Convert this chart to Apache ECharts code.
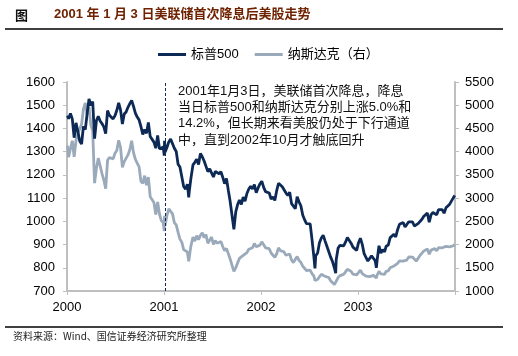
<!DOCTYPE html>
<html><head><meta charset="utf-8">
<script src="https://cdn.jsdelivr.net/npm/echarts@6/dist/echarts.min.js"></script>
<style>html,body{margin:0;padding:0;background:#fff}#c{width:518px;height:356px}</style>
</head><body><div id="c"></div>
<script>
var dates2000=['2000-01-03','2000-01-07','2000-01-14','2000-01-21','2000-01-28','2000-02-04','2000-02-11','2000-02-18','2000-02-25','2000-03-03','2000-03-10','2000-03-17','2000-03-24','2000-03-31','2000-04-07','2000-04-14','2000-04-21','2000-04-28','2000-05-05','2000-05-12','2000-05-19','2000-05-26','2000-06-02','2000-06-09','2000-06-16','2000-06-23','2000-06-30','2000-07-07','2000-07-14','2000-07-21','2000-07-28','2000-08-04','2000-08-11','2000-08-18','2000-08-25','2000-09-01','2000-09-08','2000-09-15','2000-09-22','2000-09-29','2000-10-06','2000-10-13','2000-10-20','2000-10-27','2000-11-03','2000-11-10','2000-11-17','2000-11-24','2000-12-01','2000-12-08','2000-12-15','2000-12-22','2000-12-29'];
var spx2000=[1455,1441,1465,1441,1360,1424,1387,1346,1333,1409,1395,1464,1527,1499,1516,1356,1434,1452,1432,1421,1407,1378,1477,1457,1464,1441,1455,1478,1510,1480,1419,1462,1471,1491,1507,1521,1495,1466,1449,1437,1408,1374,1396,1379,1426,1365,1367,1341,1315,1370,1312,1305,1320];
var ndx2000=[4131,3882,4065,4235,3887,4244,4395,4411,4590,4914,5048,4798,4963,4573,4446,3321,3643,3860,3817,3529,3390,3205,3813,3874,3860,3845,3966,4024,4246,4094,3663,3787,3789,3930,4042,4234,3979,3835,3803,3673,3361,3316,3483,3278,3451,3028,3028,2905,2645,2917,2653,2517,2471];

var dates2001=['2001-01-02','2001-01-03','2001-01-05','2001-01-12','2001-01-19','2001-01-26','2001-02-02','2001-02-09','2001-02-16','2001-02-23','2001-03-02','2001-03-09','2001-03-16','2001-03-23','2001-03-30','2001-04-04','2001-04-06','2001-04-12','2001-04-20','2001-04-27','2001-05-04','2001-05-11','2001-05-18','2001-05-25','2001-06-01','2001-06-08','2001-06-15','2001-06-22','2001-06-29','2001-07-06','2001-07-13','2001-07-20','2001-07-27','2001-08-03','2001-08-10','2001-08-17','2001-08-24','2001-08-31','2001-09-07','2001-09-10','2001-09-21','2001-09-28','2001-10-05','2001-10-12','2001-10-19','2001-10-26','2001-11-02','2001-11-09','2001-11-16','2001-11-23','2001-11-30','2001-12-07','2001-12-14','2001-12-21','2001-12-28'];
var spx2001=[1283,1347,1298,1318,1342,1354,1350,1315,1301,1246,1234,1233,1150,1139,1160,1103,1128,1183,1243,1254,1267,1245,1292,1278,1260,1265,1214,1226,1224,1191,1215,1211,1205,1214,1190,1162,1185,1134,1085,1092,966,1041,1072,1092,1073,1104,1087,1120,1139,1151,1139,1158,1123,1144,1161];
var ndx2001=[2291,2617,2407,2626,2770,2781,2661,2470,2425,2262,2117,2052,1890,1928,1840,1638,1720,1961,2163,2075,2192,2107,2198,2252,2149,2215,2028,2034,2161,2004,2085,2029,2030,2066,1957,1867,1917,1805,1688,1695,1423,1499,1605,1703,1671,1768,1745,1828,1898,1903,1930,2021,1953,1945,1987];

var dates2002=['2002-01-04','2002-01-11','2002-01-18','2002-01-25','2002-02-01','2002-02-08','2002-02-15','2002-02-22','2002-03-01','2002-03-08','2002-03-15','2002-03-22','2002-03-28','2002-04-05','2002-04-12','2002-04-19','2002-04-26','2002-05-03','2002-05-10','2002-05-17','2002-05-24','2002-05-31','2002-06-07','2002-06-14','2002-06-21','2002-06-28','2002-07-05','2002-07-12','2002-07-19','2002-07-23','2002-07-26','2002-08-02','2002-08-09','2002-08-16','2002-08-23','2002-08-30','2002-09-06','2002-09-13','2002-09-20','2002-09-27','2002-10-04','2002-10-09','2002-10-11','2002-10-18','2002-10-25','2002-11-01','2002-11-08','2002-11-15','2002-11-22','2002-11-29','2002-12-06','2002-12-13','2002-12-20','2002-12-27'];
var spx2002=[1173,1146,1128,1133,1122,1096,1105,1090,1132,1164,1166,1149,1147,1122,1112,1125,1076,1074,1054,1106,1084,1067,1027,1007,990,990,989,921,847,797,852,864,908,928,940,916,893,889,846,827,800,777,835,884,897,900,894,910,930,936,906,889,895,875];
var ndx2002=[2059,2023,1930,1937,1911,1818,1805,1724,1802,1930,1868,1852,1845,1770,1757,1796,1663,1613,1600,1741,1661,1615,1535,1505,1441,1463,1448,1374,1319,1229,1262,1247,1306,1361,1380,1315,1295,1291,1221,1199,1139,1114,1210,1287,1331,1360,1359,1411,1468,1479,1422,1362,1387,1348];

var dates2003=['2003-01-03','2003-01-10','2003-01-17','2003-01-24','2003-01-31','2003-02-07','2003-02-14','2003-02-21','2003-02-28','2003-03-07','2003-03-11','2003-03-14','2003-03-21','2003-03-28','2003-04-04','2003-04-11','2003-04-17','2003-04-25','2003-05-02','2003-05-09','2003-05-16','2003-05-23','2003-05-30','2003-06-06','2003-06-13','2003-06-20','2003-06-27','2003-07-03','2003-07-11','2003-07-18','2003-07-25','2003-08-01','2003-08-08','2003-08-15','2003-08-22','2003-08-29','2003-09-05','2003-09-12','2003-09-19','2003-09-26','2003-10-03','2003-10-10','2003-10-17','2003-10-24','2003-10-31','2003-11-07','2003-11-14','2003-11-21','2003-11-28','2003-12-05','2003-12-12','2003-12-19','2003-12-26','2003-12-31'];
var spx2003=[908,927,901,861,856,829,834,851,841,829,800,833,895,863,878,868,893,898,930,933,944,933,964,987,988,995,976,985,998,993,998,980,977,990,993,1008,1021,1018,1036,996,1029,1038,1039,1028,1050,1053,1050,1035,1058,1061,1074,1088,1095,1112];
var ndx2003=[1388,1447,1376,1342,1321,1283,1310,1349,1337,1305,1279,1340,1421,1370,1383,1358,1425,1434,1502,1520,1538,1510,1596,1646,1626,1644,1625,1664,1733,1708,1731,1715,1644,1702,1765,1810,1858,1855,1905,1792,1880,1915,1912,1865,1932,1970,1930,1893,1960,1937,1949,1951,1974,2003];

var cutDate='2001-01-03';
var xTicks=[2000,2001,2002,2003];
var seriesNames=['标普500','纳斯达克（右）'];
var titleText='2001 年 1 月 3 日美联储首次降息后美股走势';
var noteLines=['2001年1月3日，美联储首次降息，降息','当日标普500和纳斯达克分别上涨5.0%和','14.2%，但长期来看美股仍处于下行通道','中，直到2002年10月才触底回升'];
var sourceText='资料来源：Wind、国信证券经济研究所整理';

function decYear(s){var p=s.split('-').map(Number);var y=p[0];
  var t0=Date.UTC(y,0,1),t1=Date.UTC(y+1,0,1),t=Date.UTC(y,p[1]-1,p[2]);
  return y+(t-t0)/(t1-t0);}
var dates=dates2000.concat(dates2001,dates2002,dates2003);
var spx=spx2000.concat(spx2001,spx2002,spx2003);
var ndx=ndx2000.concat(ndx2001,ndx2002,ndx2003);
var spxData=dates.map(function(d,i){return [decYear(d),spx[i]];});
var ndxData=dates.map(function(d,i){return [decYear(d),ndx[i]];});

var FONT='"Liberation Sans","Noto Sans CJK SC",sans-serif';
var axisGray='#bfbfbf';
function plain(v){return String(v);}
var chart=echarts.init(document.getElementById('c'),null,{renderer:'canvas'});
chart.setOption({
  backgroundColor:'#fff',
  animation:false,
  grid:{left:67,right:63,top:82,bottom:65,containLabel:false},
  legend:{top:43,left:153,itemWidth:28,itemHeight:3,itemGap:16,icon:'rect',
    textStyle:{fontSize:13,color:'#000',fontFamily:FONT},
    data:seriesNames},
  xAxis:{type:'value',min:2000,max:2004,interval:1,
    axisLine:{show:true,lineStyle:{color:axisGray,width:2}},
    axisTick:{show:true,length:4,lineStyle:{color:axisGray,width:1}},
    splitLine:{show:false},
    axisLabel:{margin:10,fontSize:13,color:'#000',fontFamily:FONT,
      formatter:function(v){return xTicks.indexOf(v)>=0?String(v):'';}}},
  yAxis:[
    {type:'value',min:700,max:1600,interval:100,position:'left',
     axisLine:{show:true,lineStyle:{color:axisGray,width:2}},
     axisTick:{show:true,length:4,lineStyle:{color:axisGray}},
     splitLine:{show:false},
     axisLabel:{margin:12,fontSize:13,color:'#000',fontFamily:FONT,formatter:plain}},
    {type:'value',min:1000,max:5500,interval:500,position:'right',
     axisLine:{show:true,lineStyle:{color:axisGray,width:2}},
     axisTick:{show:true,length:4,lineStyle:{color:axisGray}},
     splitLine:{show:false},
     axisLabel:{margin:10,fontSize:13,color:'#000',fontFamily:FONT,formatter:plain}}
  ],
  series:[
    {name:seriesNames[0],type:'line',yAxisIndex:0,data:spxData,showSymbol:false,z:3,
     itemStyle:{color:'#0c2a55'},lineStyle:{color:'#0c2a55',width:2.8},
     markLine:{silent:true,symbol:['none','none'],label:{show:false},
       lineStyle:{type:[3,2],color:'#0c2a55',width:1},
       data:[{xAxis:decYear(cutDate)}]}},
    {name:seriesNames[1],type:'line',yAxisIndex:1,data:ndxData,showSymbol:false,z:2,
     itemStyle:{color:'#9aaabb'},lineStyle:{color:'#9aaabb',width:2.8}}
  ],
  graphic:[
    {type:'text',left:15,top:9,style:{text:'图',font:'bold 13px "Noto Sans CJK SC",sans-serif',fill:'#111'}},
    {type:'text',left:54,top:8,style:{text:titleText,font:'bold 13px "Liberation Sans","Noto Sans CJK SC",sans-serif',fill:'#6e2200'}},
    {type:'line',shape:{x1:5,y1:29,x2:503,y2:29},style:{stroke:'#000',lineWidth:1.5}},
    {type:'text',left:178,top:83,style:{text:noteLines.join('\n'),font:'13px "Liberation Sans","Noto Sans CJK SC",sans-serif',fill:'#111',lineHeight:16.3}},
    {type:'line',shape:{x1:5,y1:327,x2:503,y2:327},style:{stroke:'#000',lineWidth:1.5}},
    {type:'text',left:13,top:331,style:{text:sourceText,font:'10px "Noto Sans CJK SC",sans-serif',fill:'#222'}}
  ]
});
</script></body></html>
